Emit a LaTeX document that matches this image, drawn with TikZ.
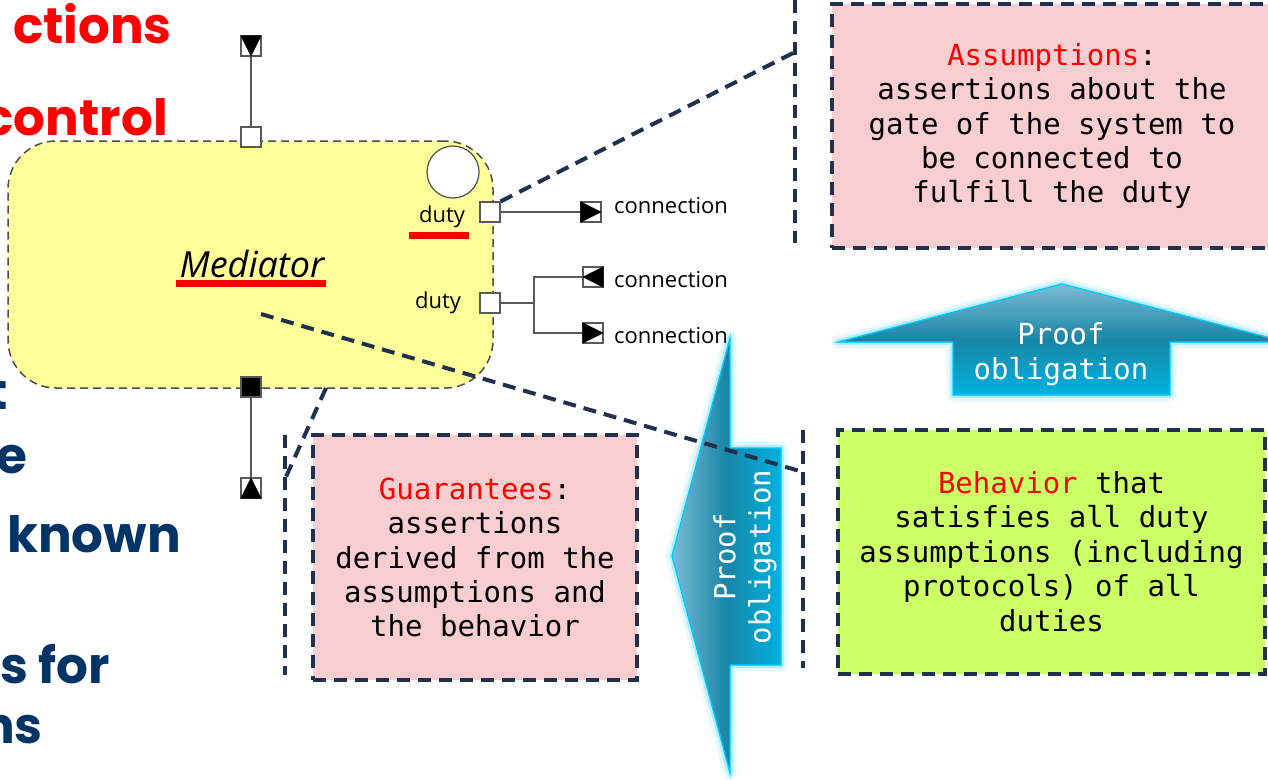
\documentclass[tikz,border=0pt]{standalone}
\usepackage{fontspec}
\usepackage{tikz}
\usetikzlibrary{arrows,positioning}
\newfontfamily\boxfont{DejaVu Sans Mono}
\newfontfamily\umlfont{Open Sans}
\newfontfamily\slidefont{Poppins}
\definecolor{medyellow}{RGB}{255,255,153}
\definecolor{notepink}{RGB}{248,206,208}
\definecolor{notegreen}{RGB}{204,255,102}
\definecolor{calloutblue}{RGB}{31,49,79}
\definecolor{slidenavy}{RGB}{0,51,102}
\definecolor{slidered}{RGB}{255,0,0}
\definecolor{glowcyan}{RGB}{0,200,255}
\definecolor{poLight}{RGB}{122,188,214}
\definecolor{poMid}{RGB}{24,134,165}
\definecolor{poBright}{RGB}{0,178,226}

\begin{document}
\begin{tikzpicture}[x=1pt, y=-1pt, >=stealth,
                    every node/.style={inner sep=0pt},
                    medbox/.style={draw=black!70, dash pattern=on 8pt off 5pt, line width=1.5pt,
                                   fill=medyellow, rounded corners=48pt, minimum width=485pt, minimum height=247pt},
                    port/.style={draw=black!65, fill=white, line width=1.2pt, minimum size=20pt},
                    bport/.style={port, fill=black},
                    portline/.style={draw=black!65, line width=1.8pt},
                    umltext/.style={font=\umlfont\fontsize{22}{26}\selectfont},
                    redbar/.style={draw=slidered, line width=6.5pt},
                    callout/.style={draw=calloutblue, line width=4pt, dash pattern=on 13pt off 8pt},
                    notebox/.style={callout, align=center, text=black,
                                    font=\boxfont\fontsize{29}{34.4}\selectfont},
                    slide/.style={font=\slidefont\bfseries\fontsize{50}{56}\selectfont, anchor=base east},
                    glow/.style={preaction={draw=glowcyan, draw opacity=.10, line width=13pt, line join=round},
                                 preaction={draw=glowcyan, draw opacity=.22, line width=6pt, line join=round},
                                 draw=glowcyan, line width=1.3pt},
                    uparrow/.style={glow, top color=poLight, bottom color=poBright, middle color=poMid},
                    sidearrow/.style={glow, left color=poLight, right color=poBright, middle color=poMid},
                    prooftext/.style={align=center, text=white, font=\boxfont\fontsize{29}{35}\selectfont}]

\useasboundingbox (0,0) rectangle (1268,779);

\node[slide, text=slidered] (s1) at (172,43) {ctions};
\node[slide, text=slidered] (s2) at (168,135) {control};
\node[slide, text=slidenavy] (s3) at (8,409) {t};
\node[slide, text=slidenavy] (s4) at (27,473) {e};
\node[slide, text=slidenavy] (s5) at (181,552) {known};
\node[slide, text=slidenavy] (s6) at (110,683) {es for};
\node[slide, text=slidenavy] (s7) at (43,743) {ns};

\node[medbox] (med) at (250.5,264.5) {};
\node[draw=black!70, fill=white, circle, minimum size=52pt, line width=1.2pt] (state) at (453,172) {};

\node[font=\umlfont\itshape\fontsize{36}{40}\selectfont] (medname) at (252,264) {Mediator};
\draw[redbar] (176,283.5) -- (326,283.5);
\node[umltext] (d1) at (442,217) {duty};
\draw[redbar] (409,235.5) -- (469,235.5);
\node[umltext] (d2) at (438,303) {duty};

\node[port] (ptop) at (251,137) {};
\node[port] (ttop) at (251,46) {};
\node[bport] (pbot) at (251,387) {};
\node[port] (tbot) at (251,488) {};
\node[port] (pd1) at (490,212) {};
\node[port] (td1) at (591,212) {};
\node[port] (pd2) at (490,303) {};
\node[port] (td2a) at (593,277) {};
\node[port] (td2b) at (593,333) {};
\coordinate (br) at (534,303);

\fill (ttop.north west) -- (ttop.north east) -- (ttop.south) -- cycle;
\fill (tbot.south west) -- (tbot.north) -- (tbot.south east) -- cycle;
\fill (td1.north west) -- (td1.east) -- (td1.south west) -- cycle;
\fill (td2a.north east) -- (td2a.west) -- (td2a.south east) -- cycle;
\fill (td2b.north west) -- (td2b.east) -- (td2b.south west) -- cycle;

\path (ptop) edge[portline] (ttop)
      (pbot) edge[portline] (tbot)
      (pd1) edge[portline] (td1);
\draw[portline] (pd2) -- (br) |- (td2a);
\draw[portline] (br) |- (td2b);

\node[umltext, anchor=west] (c1) at (614,206) {connection};
\node[umltext, anchor=west] (c2) at (614,280) {connection};
\node[umltext, anchor=west] (c3) at (614,336) {connection};

\node[notebox, fill=notepink, minimum width=440pt, minimum height=244pt] (assume) at (1052,126)
  {\textcolor{slidered}{Assumptions}:\\assertions about the\\gate of the system to\\be connected to\\fulfill the duty};
\node[notebox, fill=notepink, minimum width=324pt, minimum height=245pt] (guar) at (475,557.5)
  {\textcolor{slidered}{Guarantees}:\\assertions\\derived from the\\assumptions and\\the behavior};
\node[notebox, fill=notegreen, minimum width=427pt, minimum height=244pt] (behav) at (1051.5,551.5)
  {\textcolor{slidered}{Behavior} that\\satisfies all duty\\assumptions (including\\protocols) of all\\duties};

\path[uparrow] (1062,284) -- (1286,342) -- (1170,342) -- (1170,395) -- (953,395) -- (953,342) -- (838,342) -- cycle;
\node[prooftext] (po1) at (1061,354) {Proof\\obligation};
\path[sidearrow] (672,556) -- (730,338) -- (730,448) -- (781,448) -- (781,665) -- (730,665) -- (730,773) -- cycle;
\node[prooftext, rotate=90] (po2) at (745,557) {Proof\\obligation};

\coordinate (aTop) at (795,0);
\coordinate (aBot) at (795,243);
\coordinate (aHit) at (795,52);
\coordinate (gStart) at (326,388);
\coordinate (gTop) at (285,435);
\coordinate (gBot) at (285,675);
\coordinate (gHit) at (285,479);
\coordinate (bStart) at (261,314);
\coordinate (bTop) at (803,430);
\coordinate (bBot) at (803,668);
\coordinate (bHit) at (803,472);

\draw[callout] (aTop) -- (aBot);
\draw[callout] (pd1.north east) -- (aHit);
\draw[callout] (gTop) -- (gBot);
\draw[callout] (gStart) -- (gHit);
\draw[callout] (bTop) -- (bBot);
\draw[callout] (bStart) -- (bHit);
\end{tikzpicture}
\end{document}
